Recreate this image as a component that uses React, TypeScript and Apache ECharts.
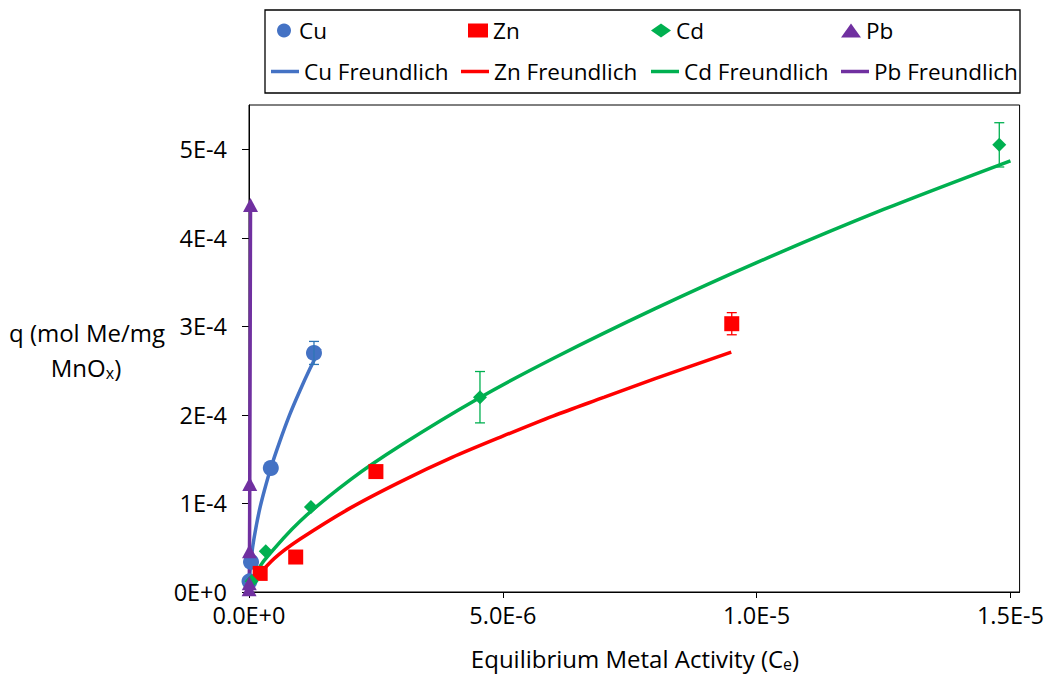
import React, { useEffect, useRef } from "react";
import * as echarts from "echarts";

// ---------- data ----------
const xTicks = [0, 5e-6, 1e-5, 1.5e-5];
const xTickLabels = ["0.0E+0", "5.0E-6", "1.0E-5", "1.5E-5"];
const yTicks = [0, 1e-4, 2e-4, 3e-4, 4e-4, 5e-4];
const yTickLabels = ["0E+0", "1E-4", "2E-4", "3E-4", "4E-4", "5E-4"];

const cuPoints = [[1e-8, 1.2e-5], [4e-8, 3.4e-5], [4.3e-7, 1.4e-4], [1.28e-6, 2.7e-4]];
const cuErr = [0, 0, 0, 1.3e-5];
const znPoints = [[2.2e-7, 2.1e-5], [9.2e-7, 3.95e-5], [2.5e-6, 1.36e-4], [9.51e-6, 3.03e-4]];
const znErr = [0, 0, 0, 1.25e-5];
const cdPoints = [[5e-8, 1.2e-5], [3.3e-7, 4.6e-5], [1.22e-6, 9.6e-5], [4.55e-6, 2.2e-4], [1.478e-5, 5.05e-4]];
const cdErr = [0, 0, 0, 2.9e-5, 2.5e-5];
const pbPoints = [[2e-9, 3e-6], [5e-9, 1e-5], [1e-8, 4.6e-5], [1.5e-8, 1.22e-4], [3e-8, 4.37e-4]];

const cuCurve = [[1e-8, 1.64e-5], [5e-8, 4.1e-5], [1e-7, 6.1e-5], [2e-7, 9.1e-5], [3e-7, 1.14e-4], [4.3e-7, 1.4e-4], [6e-7, 1.69e-4], [8e-7, 2.0e-4], [1e-6, 2.27e-4], [1.2e-6, 2.52e-4], [1.4e-6, 2.75e-4]];
const znCurve = [[1.5e-7, 1.65e-5], [5e-7, 3.8e-5], [1e-6, 5.95e-5], [2e-6, 9.5e-5], [3e-6, 1.25e-4], [4e-6, 1.52e-4], [5e-6, 1.76e-4], [6e-6, 1.99e-4], [7e-6, 2.2e-4], [8e-6, 2.41e-4], [9.5e-6, 2.71e-4]];
const cdCurve = [[5e-8, 1.1e-5], [1e-7, 1.71e-5], [3e-7, 3.56e-5], [1e-6, 7.97e-5], [2e-6, 1.27e-4], [3e-6, 1.66e-4], [4.5e-6, 2.18e-4], [6e-6, 2.64e-4], [8e-6, 3.2e-4], [1e-5, 3.72e-4], [1.25e-5, 4.32e-4], [1.5e-5, 4.87e-4]];
const pbCurve = [[1e-9, 2e-6], [5e-9, 1e-5], [1e-8, 4.6e-5], [1.5e-8, 1.22e-4], [3e-8, 4.37e-4]];

const FONT = "Open Sans";
const C_CU = "#4472C4";
const C_ZN = "#FF0000";
const C_CD = "#00B050";
const C_PB = "#7030A0";

function withErr(points: number[][], errs: number[]) {
  return points.map((p, i) => [p[0], p[1], errs[i]]).filter((d) => d[2] > 0);
}

function errSeries(name: string, points: number[][], errs: number[], color: string) {
  return {
    type: "custom",
    name,
    z: 4,
    silent: true,
    data: withErr(points, errs),
    encode: { x: 0, y: 1 },
    renderItem: (params: any, api: any) => {
      const x = api.value(0);
      const y = api.value(1);
      const e = api.value(2);
      const top = api.coord([x, y + e]);
      const bot = api.coord([x, y - e]);
      const w = 5;
      const st = { stroke: color, lineWidth: 1.3 };
      return {
        type: "group",
        children: [
          { type: "line", shape: { x1: top[0], y1: top[1], x2: bot[0], y2: bot[1] }, style: st },
          { type: "line", shape: { x1: top[0] - w, y1: top[1], x2: top[0] + w, y2: top[1] }, style: st },
          { type: "line", shape: { x1: bot[0] - w, y1: bot[1], x2: bot[0] + w, y2: bot[1] }, style: st },
        ],
      };
    },
  };
}

function pickLabel(v: number, ticks: number[], labels: string[]) {
  let best = 0;
  for (let i = 1; i < ticks.length; i++) {
    if (Math.abs(ticks[i] - v) < Math.abs(ticks[best] - v)) best = i;
  }
  return labels[best];
}

export default function App() {
  const ref = useRef<HTMLDivElement>(null);
  useEffect(() => {
    document.body.style.margin = "0";
    if (!ref.current) return;
    const chart = echarts.init(ref.current, undefined, { renderer: "svg" });
    const legTxt = { fontFamily: FONT, fontSize: 22.5, color: "#000" };
    const tickTxt = { fontFamily: FONT, fontSize: 23.5, color: "#000" };
    const legendRow1 = [
      { name: "Cu", left: 277 },
      { name: "Zn", left: 468 },
      { name: "Cd", left: 651 },
      { name: "Pb", left: 841 },
    ];
    const legendRow2 = [
      { name: "Cu Freundlich", left: 271 },
      { name: "Zn Freundlich", left: 461 },
      { name: "Cd Freundlich", left: 651 },
      { name: "Pb Freundlich", left: 841 },
    ];
    const legends = [
      ...legendRow1.map((l) => ({
        data: [l.name], left: l.left, top: 19, padding: 0, itemWidth: 20, itemHeight: 14, itemGap: 0,
        textStyle: legTxt, selectedMode: false,
      })),
      ...legendRow2.map((l) => ({
        data: [{ name: l.name, icon: "rect" }], left: l.left, top: 60, padding: 0, itemWidth: 28, itemHeight: 3.5, itemGap: 0,
        textStyle: legTxt, selectedMode: false,
      })),
    ];
    const scatter = (name: string, data: number[][], color: string, symbol: string, size: any) => ({
      type: "scatter", name, data, symbol, symbolSize: size, z: 3,
      itemStyle: { color, opacity: 1 },
    });
    const curve = (name: string, data: number[][], color: string) => ({
      type: "line", name, data, symbol: "none", smooth: 0.3, z: 2,
      lineStyle: { color, width: 3.5 }, itemStyle: { color },
    });
    const richSub = {
      a: { fontFamily: FONT, fontSize: 24, lineHeight: 28, fill: "#000", color: "#000" },
      s: { fontFamily: FONT, fontSize: 16, lineHeight: 10, verticalAlign: "bottom", fill: "#000", color: "#000" },
      c: { fontFamily: FONT, fontSize: 24, lineHeight: 28, fill: "#000", color: "#000" },
    };
    chart.setOption({
      animation: false,
      backgroundColor: "#fff",
      textStyle: { fontFamily: FONT },
      grid: { left: 249, top: 105, right: 27, bottom: 83, show: true, borderColor: "#000", borderWidth: 1 },
      legend: legends,
      graphic: [
        { type: "rect", shape: { x: 265, y: 10, width: 755, height: 83 }, style: { fill: "none", stroke: "#000", lineWidth: 1.3 } },
        { type: "text", x: 87, y: 332, style: { text: "q (mol Me/mg", font: `24px "${FONT}"`, fill: "#000", textAlign: "center", textVerticalAlign: "middle" } },
        {
          type: "text", x: 86, y: 367,
          style: { text: "{a|MnO}{s|x}{c|)}", textAlign: "center", textVerticalAlign: "middle", fill: "#000", rich: richSub },
        },
        {
          type: "text", x: 635, y: 658,
          style: { text: "{a|Equilibrium Metal Activity (C}{s|e}{c|)}", textAlign: "center", textVerticalAlign: "middle", fill: "#000", rich: richSub },
        },
      ],
      xAxis: {
        type: "value", min: 0, max: 1.518e-5,
        axisLine: { onZero: false, lineStyle: { color: "#000", width: 1 } },
        axisTick: { show: true, length: 6, customValues: xTicks, lineStyle: { color: "#000" } },
        axisLabel: { customValues: xTicks, ...tickTxt, margin: 11, formatter: (v: number) => pickLabel(v, xTicks, xTickLabels) },
        splitLine: { show: false },
      },
      yAxis: {
        type: "value", min: 0, max: 5.5e-4,
        axisLine: { onZero: false, lineStyle: { color: "#000", width: 1 } },
        axisTick: { show: true, length: 7, customValues: yTicks, lineStyle: { color: "#000" } },
        axisLabel: { customValues: yTicks, ...tickTxt, margin: 22, formatter: (v: number) => pickLabel(v, yTicks, yTickLabels) },
        splitLine: { show: false },
      },
      series: [
        curve("Cu Freundlich", cuCurve, C_CU),
        curve("Zn Freundlich", znCurve, C_ZN),
        curve("Cd Freundlich", cdCurve, C_CD),
        curve("Pb Freundlich", pbCurve, C_PB),
        scatter("Cu", cuPoints, C_CU, "circle", 16),
        scatter("Zn", znPoints, C_ZN, "rect", 15),
        scatter("Cd", cdPoints, C_CD, "diamond", 14),
        scatter("Pb", pbPoints, C_PB, "triangle", [15, 14]),
        errSeries("Cu err", cuPoints, cuErr, "#2E75B6"),
        errSeries("Zn err", znPoints, znErr, C_ZN),
        errSeries("Cd err", cdPoints, cdErr, C_CD),
      ],
    });
    return () => chart.dispose();
  }, []);
  return <div ref={ref} style={{ width: 1047, height: 675 }} />;
}
